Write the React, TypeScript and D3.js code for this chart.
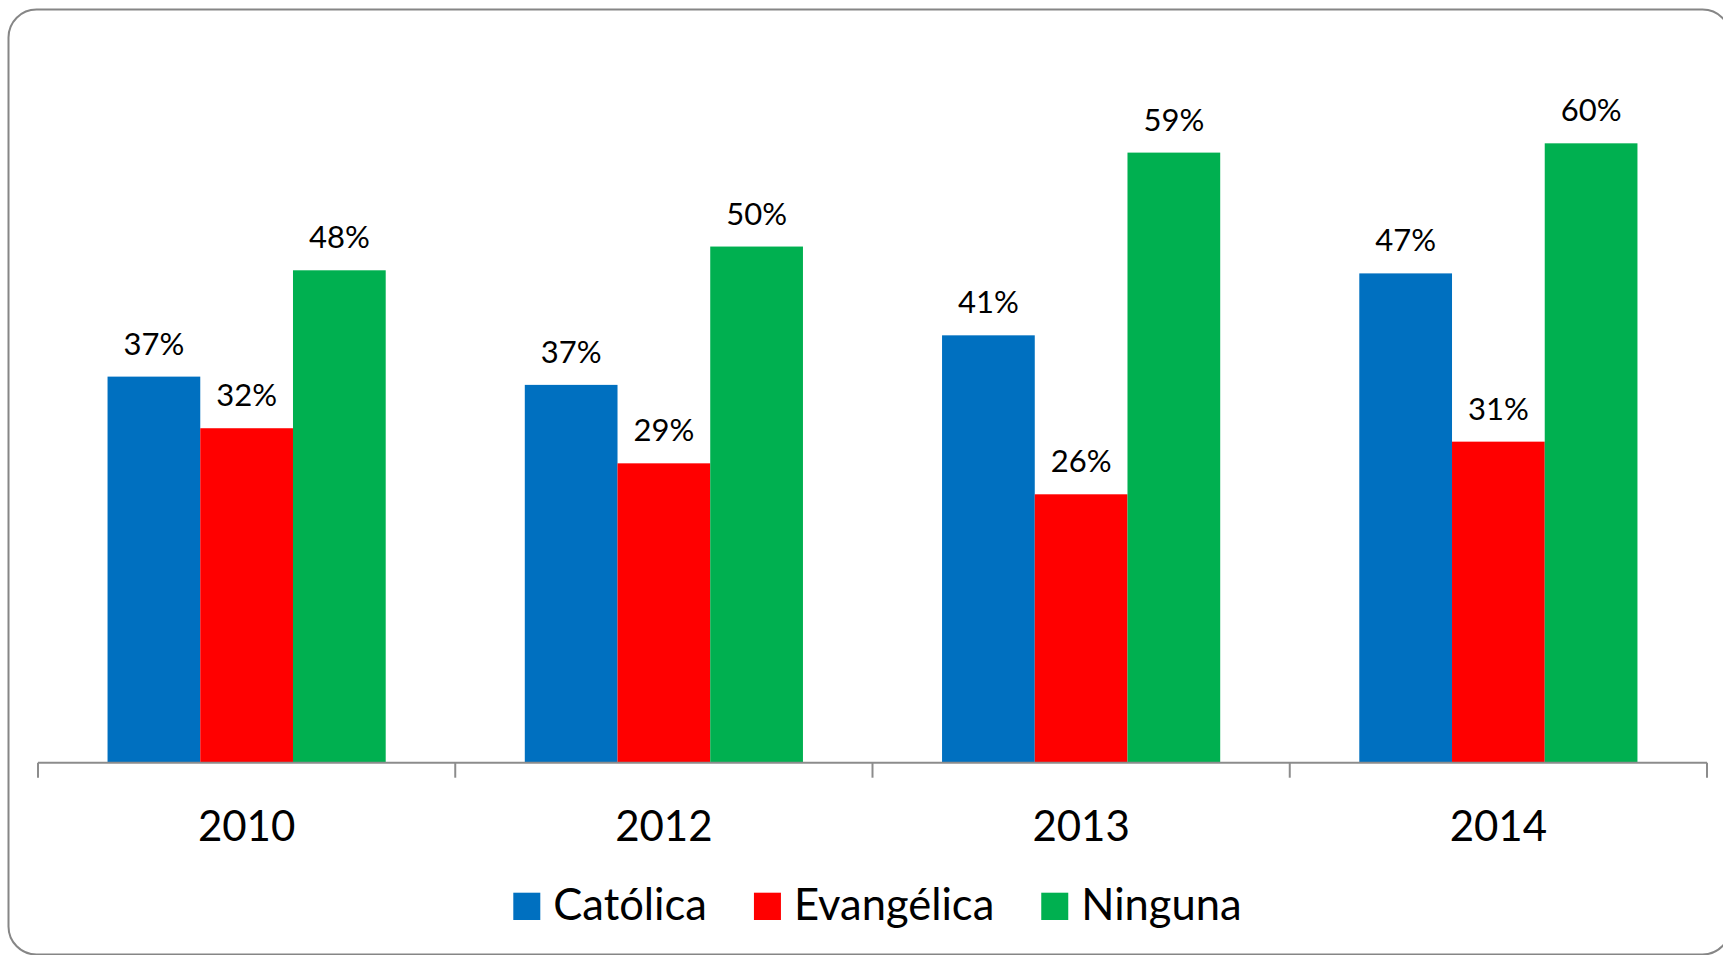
import React, { useEffect } from "react";
import * as d3 from "d3";

const years = ["2010", "2012", "2013", "2014"];
const seriesNames = ["Católica", "Evangélica", "Ninguna"];
const seriesColors = ["#0070C0", "#FF0000", "#00B050"];
const catolica = [37.4, 36.6, 41.4, 47.4];
const evangelica = [32.4, 29.0, 26.0, 31.1];
const ninguna = [47.7, 50.0, 59.1, 60.0];
const seriesValues = [catolica, evangelica, ninguna];

const W = 1723;
const H = 955;
const axisLeft = 38;
const axisRight = 1707;
const baseY = 762.7;
const pxPerUnit = 10.323;
const FONT = "Lato, 'Open Sans', sans-serif";

function measure(text: string, size: number): number {
  const c = document.createElement("canvas").getContext("2d");
  if (!c) return text.length * size * 0.5;
  c.font = `${size}px Lato`;
  return c.measureText(text).width;
}

export default function App() {
  useEffect(() => {
    document.body.style.margin = "0";
    document.body.style.overflow = "hidden";
  }, []);

  const x0 = d3.scaleBand<string>().domain(years).range([axisLeft, axisRight]).paddingInner(0).paddingOuter(0);
  const band = x0.bandwidth();
  const groupW = (band * 2) / 3;
  const x1 = d3
    .scaleBand<string>()
    .domain(seriesNames)
    .range([(band - groupW) / 2, (band + groupW) / 2])
    .padding(0);
  const y = d3.scaleLinear().domain([0, 70]).range([baseY, baseY - 70 * pxPerUnit]);

  const legendSize = 43.5;
  const sw = 27;
  let lx = 513.3;
  const legendItems = seriesNames.map((name, i) => {
    const item = { name, color: seriesColors[i], x: lx };
    lx += sw + 13 + measure(name, legendSize) + 47;
    return item;
  });

  const ticks = [...years.map((yr) => x0(yr) as number), axisRight];

  return (
    <svg
      width={W}
      height={H}
      style={{ position: "absolute", left: 0, top: 0, display: "block" }}
      fontFamily={FONT}
    >
      <rect x={0} y={0} width={W} height={H} fill="#ffffff" />
      <rect
        x={8.5}
        y={9.5}
        width={1722}
        height={945}
        rx={28}
        ry={28}
        fill="#ffffff"
        stroke="#868686"
        strokeWidth={2}
      />
      {years.map((yr, gi) => (
        <g key={yr} transform={`translate(${x0(yr)},0)`}>
          {seriesNames.map((s, si) => {
            const v = seriesValues[si][gi];
            const bx = x1(s) as number;
            const bw = x1.bandwidth();
            return (
              <g key={s}>
                <rect
                  x={bx}
                  y={y(v)}
                  width={bw}
                  height={baseY - y(v)}
                  fill={seriesColors[si]}
                />
                <text
                  x={bx + bw / 2}
                  y={y(v) - 22}
                  textAnchor="middle"
                  fontSize={31}
                  fill="#000"
                >
                  {`${Math.round(v)}%`}
                </text>
              </g>
            );
          })}
          <text x={band / 2} y={840.5} textAnchor="middle" fontSize={42} fill="#000">
            {yr}
          </text>
        </g>
      ))}
      <line x1={axisLeft} x2={axisRight} y1={baseY} y2={baseY} stroke="#8c8c8c" strokeWidth={2} />
      {ticks.map((t, i) => (
        <line key={i} x1={t} x2={t} y1={baseY} y2={baseY + 15} stroke="#8c8c8c" strokeWidth={2} />
      ))}
      {legendItems.map((it) => (
        <g key={it.name}>
          <rect x={it.x} y={892.7} width={sw} height={27.3} fill={it.color} />
          <text x={it.x + sw + 13} y={920} fontSize={legendSize} fill="#000">
            {it.name}
          </text>
        </g>
      ))}
    </svg>
  );
}
